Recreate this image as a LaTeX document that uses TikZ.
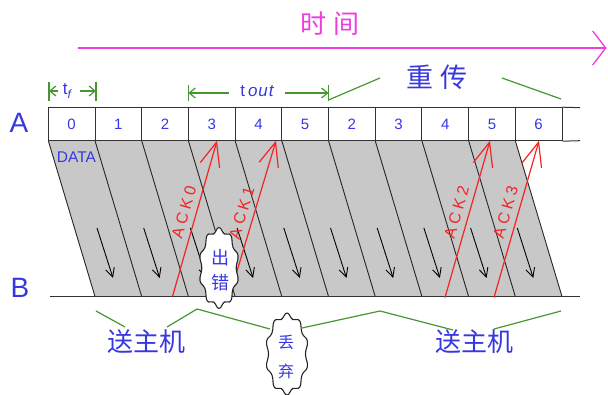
\documentclass[tikz,border=0pt]{standalone}
\usepackage{fontspec}
\setmainfont{Liberation Sans}
\newfontfamily\cjk{Noto Sans CJK SC}
\usepackage{tikz}
\usetikzlibrary{arrows.meta}

\definecolor{txtblue}{RGB}{55,55,225}
\definecolor{timepink}{RGB}{240,60,220}
\definecolor{spangreen}{RGB}{70,150,50}
\definecolor{ackred}{RGB}{245,35,35}
\definecolor{bandgray}{RGB}{200,200,200}

\begin{document}
\begin{tikzpicture}[x=1pt,y=1pt]
        \tikzstyle{every node}+=[inner sep=0pt]
        \tikzstyle{frame}=[draw=black!80,line width=1pt,minimum width=46.7pt,minimum height=33pt,font=\fontsize{15}{18}\selectfont,text=txtblue]
        \tikzstyle{slant}=[black!85,line width=0.9pt]
        \tikzstyle{flow}=[black,line width=0.9pt,-{Straight Barb[length=9pt,width=9pt]}]
        \tikzstyle{ack}=[ackred,line width=1.2pt,-{Straight Barb[length=24pt,width=20pt]}]
        \tikzstyle{acklabel}=[sloped,above=6pt,text=ackred,font=\fontsize{16}{18}\selectfont]
        \tikzstyle{span}=[spangreen,line width=1.2pt]
        \tikzstyle{spantip}=[spangreen,line width=1.2pt,-{Straight Barb[length=6pt,width=10pt]}]
        \tikzstyle{puffline}=[draw=black!85,fill=white,line width=1.1pt]
        \tikzstyle{puffword}=[text=txtblue,align=center]
        \useasboundingbox (0,0) rectangle (608,-395);
        % time axis
        \node [text=timepink,font=\cjk\fontsize{26}{28}\selectfont] (time) at (330,-24) {时\hspace{8pt}间};
        \draw [timepink,line width=1.3pt,-{Straight Barb[length=13pt,width=34pt]}] (78,-48) -- (606.5,-48);
        % stations
        \node [text=txtblue,font=\fontsize{28}{30}\selectfont] (labA) at (19,-123) {A};
        \node [text=txtblue,font=\fontsize{28}{30}\selectfont] (labB) at (20,-288) {B};
        % frames on the wire
        \fill [bandgray] (48.3,-140.7) -- (515.3,-140.7) -- (562,-296.5) -- (95,-296.5) -- cycle;
        \draw [slant] (48.3,-140.7) -- (95,-296.5);
        \draw [slant] (95,-140.7) -- (141.7,-296.5);
        \draw [slant] (141.7,-140.7) -- (188.4,-296.5);
        \draw [slant] (188.4,-140.7) -- (235.1,-296.5);
        \draw [slant] (235.1,-140.7) -- (281.8,-296.5);
        \draw [slant] (281.8,-140.7) -- (328.5,-296.5);
        \draw [slant] (328.5,-140.7) -- (375.2,-296.5);
        \draw [slant] (375.2,-140.7) -- (421.9,-296.5);
        \draw [slant] (421.9,-140.7) -- (468.6,-296.5);
        \draw [slant] (468.6,-140.7) -- (515.3,-296.5);
        \draw [slant] (515.3,-140.7) -- (562,-296.5);
        \draw [black!80,line width=1pt] (50,-296.5) -- (580,-296.5);
        \draw [flow] (97,-228) -- (113,-278);
        \draw [flow] (143.7,-228) -- (159.7,-278);
        \draw [flow] (190.4,-228) -- (206.4,-278);
        \draw [flow] (237.1,-228) -- (253.1,-278);
        \draw [flow] (283.8,-228) -- (299.8,-278);
        \draw [flow] (330.5,-228) -- (346.5,-278);
        \draw [flow] (377.2,-228) -- (393.2,-278);
        \draw [flow] (423.9,-228) -- (439.9,-278);
        \draw [flow] (470.6,-228) -- (486.6,-278);
        \draw [flow] (517.3,-228) -- (533.3,-278);
        % sender strip
        \node [frame] (f0) at (71.65,-124.2) {0};
        \node [frame] (f1) at (118.35,-124.2) {1};
        \node [frame] (f2) at (165.05,-124.2) {2};
        \node [frame] (f3) at (211.75,-124.2) {3};
        \node [frame] (f4) at (258.45,-124.2) {4};
        \node [frame] (f5) at (305.15,-124.2) {5};
        \node [frame] (f6) at (351.85,-124.2) {2};
        \node [frame] (f7) at (398.55,-124.2) {3};
        \node [frame] (f8) at (445.25,-124.2) {4};
        \node [frame] (f9) at (491.95,-124.2) {5};
        \node [frame] (f10) at (538.65,-124.2) {6};
        \draw [black!80,line width=1pt] (f10.north east) -- (580,-107.7);
        \draw [black!80,line width=1pt] (f10.south east) -- (580,-140.7);
        \node [text=txtblue,font=\fontsize{15.5}{17}\selectfont] (data) at (76.5,-157) {DATA};
        % acknowledgements
        \coordinate (ack0s) at (172.5,-296.5);
        \coordinate (ack0e) at (217,-140.7);
        \coordinate (ack1s) at (229,-298);
        \coordinate (ack1e) at (276,-140.7);
        \coordinate (ack2s) at (445,-297.5);
        \coordinate (ack2e) at (490,-140.7);
        \coordinate (ack3s) at (494,-297.5);
        \coordinate (ack3e) at (539,-140.7);
        \draw [ack] (ack0s) -- (ack0e) node [acklabel,pos=0.52] {A\hspace{4pt}C\hspace{4pt}K\hspace{4pt}0};
        \draw [ack] (ack1s) -- (ack1e) node [acklabel,pos=0.52] {A\hspace{4pt}C\hspace{4pt}K\hspace{4pt}1};
        \draw [ack] (ack2s) -- (ack2e) node [acklabel,pos=0.52] {A\hspace{4pt}C\hspace{4pt}K\hspace{4pt}2};
        \draw [ack] (ack3s) -- (ack3e) node [acklabel,pos=0.52] {A\hspace{4pt}C\hspace{4pt}K\hspace{4pt}3};
        % error and discard
        \draw [puffline,shift={(219,-268)},xscale=20,yscale=40.5] plot [smooth cycle,tension=0.8] coordinates {(0,1) (0.27,0.84) (0.59,0.81) (0.70,0.51) (0.95,0.31) (0.86,0) (0.95,-0.31) (0.70,-0.51) (0.59,-0.81) (0.27,-0.84) (0,-1) (-0.27,-0.84) (-0.59,-0.81) (-0.70,-0.51) (-0.95,-0.31) (-0.86,0) (-0.95,0.31) (-0.70,0.51) (-0.59,0.81) (-0.27,0.84)};
        \node [puffword,font=\cjk\fontsize{18}{25}\selectfont] (err) at (220,-270) {出\\错};
        \draw [puffline,shift={(287,-354)},xscale=21.5,yscale=41] plot [smooth cycle,tension=0.8] coordinates {(0,1) (0.27,0.84) (0.59,0.81) (0.70,0.51) (0.95,0.31) (0.86,0) (0.95,-0.31) (0.70,-0.51) (0.59,-0.81) (0.27,-0.84) (0,-1) (-0.27,-0.84) (-0.59,-0.81) (-0.70,-0.51) (-0.95,-0.31) (-0.86,0) (-0.95,0.31) (-0.70,0.51) (-0.59,0.81) (-0.27,0.84)};
        \node [puffword,font=\cjk\fontsize{16}{29}\selectfont] (drop) at (286,-357) {丢\\弃};
        % timing spans
        \draw [span] (49,-82) -- (49,-101);
        \draw [span] (96,-82) -- (96,-101);
        \draw [spantip] (58,-91) -- (49,-91);
        \draw [spantip] (80,-91) -- (96,-91);
        \node [text=txtblue,font=\fontsize{17}{18}\selectfont] (tf) at (67,-91) {t\raisebox{-4pt}{\fontsize{12}{12}\selectfont\itshape f}};
        \draw [span] (188.4,-85) -- (188.4,-101);
        \draw [span] (328.5,-85) -- (328.5,-101);
        \draw [spantip] (229,-93) -- (188.4,-93);
        \draw [spantip] (285,-93) -- (328.5,-93);
        \node [text=txtblue,font=\fontsize{17}{18}\selectfont] (tout) at (257,-91) {t\hspace{3pt}{\itshape o\hspace{1pt}u\hspace{1pt}t}};
        \draw [span] (328.5,-100) -- (380,-78);
        \draw [span] (502,-78) -- (561,-99);
        \node [text=txtblue,font=\cjk\fontsize{27}{29}\selectfont] (resend) at (437,-77) {重\hspace{8pt}传};
        % receiver side
        \draw [span] (96,-311) -- (125,-327);
        \draw [span] (167,-327) -- (197,-309) -- (270,-329);
        \draw [span] (302,-328) -- (380,-311) -- (453,-330);
        \draw [span] (494,-329) -- (561,-311);
        \node [text=txtblue,font=\cjk\fontsize{26}{28}\selectfont] (host1) at (146,-342) {送主机};
        \node [text=txtblue,font=\cjk\fontsize{26}{28}\selectfont] (host2) at (474,-342) {送主机};
\end{tikzpicture}
\end{document}
